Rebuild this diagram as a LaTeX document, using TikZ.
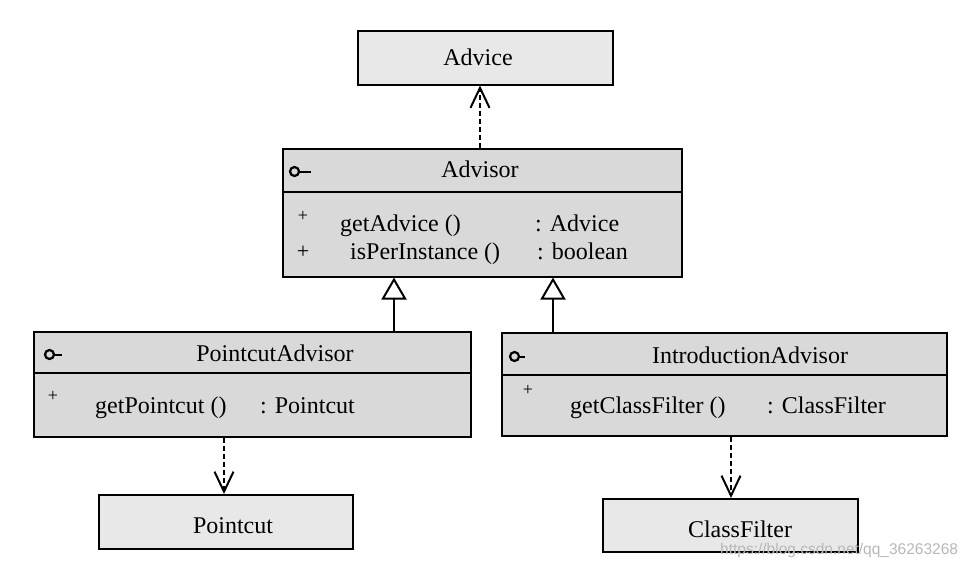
\documentclass[tikz,border=0pt]{standalone}
\usepackage{fontspec}
\setmainfont{Liberation Serif}
\newfontfamily\wmfont{Liberation Sans}
\usetikzlibrary{arrows.meta}
\definecolor{boxfill}{HTML}{D9D9D9}
\definecolor{plainfill}{HTML}{E8E8E8}
\definecolor{wmgray}{HTML}{B8B8B8}
\tikzset{
  cls/.style={draw=black, line width=2pt, fill=boxfill, rectangle, inner sep=0pt},
  plain/.style={draw=black, line width=2pt, fill=plainfill, rectangle, inner sep=0pt},
  txt/.style={inner sep=0pt, anchor=base, font=\fontsize{24}{28}\selectfont},
  ltxt/.style={inner sep=0pt, anchor=base west, font=\fontsize{24}{28}\selectfont},
  plus/.style={inner sep=0pt, anchor=center, font=\fontsize{18}{20}\selectfont},
  bigplus/.style={inner sep=0pt, anchor=center, font=\fontsize{22}{24}\selectfont},
  sep/.style={line width=2pt},
  iface/.style={line width=2.2pt},
  dep/.style={line width=2pt, dash pattern=on 5pt off 3pt, -{Straight Barb[length=20pt,width=19pt]}},
  gen/.style={line width=2pt, -{Triangle[open,length=22pt,width=25pt,fill=white]}},
}
\begin{document}
\begin{tikzpicture}[x=1pt,y=-1pt]
\useasboundingbox[fill=white] (0,0) rectangle (973,570);

% Advice
\node[plain, minimum width=255pt, minimum height=54pt] (advice) at (485.5,57.5) {};
\node[txt] (adviceT) at (478,65) {Advice};

% Advisor
\node[cls, minimum width=399pt, minimum height=128pt] (advisor) at (482.5,212.5) {};
\draw[sep] (advisor.west |- 0,192) -- (advisor.east |- 0,192);
\draw[iface] (294.5,171.5) circle (4.5);
\draw[iface] (299,172) -- (311,172);
\node[txt] (advisorT) at (480,177) {Advisor};
\node[plus] (ap1) at (303,216) {+};
\node[ltxt] (am1) at (340,231) {getAdvice ()};
\node[ltxt] (at1) at (535,231) {: Advice};
\node[bigplus] (ap2) at (303,252) {+};
\node[ltxt] (am2) at (350,259) {isPerInstance ()};
\node[ltxt] (at2) at (537,259) {: boolean};

% PointcutAdvisor
\node[cls, minimum width=437pt, minimum height=105pt] (pcadv) at (252.5,384.5) {};
\draw[sep] (pcadv.west |- 0,373) -- (pcadv.east |- 0,373);
\draw[iface] (49.5,354.5) circle (4.5);
\draw[iface] (54,355) -- (62,355);
\node[txt] (pcadvT) at (275,361) {PointcutAdvisor};
\node[plus] (pp1) at (53,396) {+};
\node[ltxt] (pm1) at (95,413) {getPointcut ()};
\node[ltxt] (pt1) at (260,413) {: Pointcut};

% IntroductionAdvisor
\node[cls, minimum width=445pt, minimum height=103pt] (inadv) at (724.5,384) {};
\draw[sep] (inadv.west |- 0,375) -- (inadv.east |- 0,375);
\draw[iface] (514.5,356.5) circle (4.5);
\draw[iface] (519,357) -- (525,357);
\node[txt] (inadvT) at (750,363) {IntroductionAdvisor};
\node[plus] (ip1) at (528,390) {+};
\node[ltxt] (im1) at (570,413) {getClassFilter ()};
\node[ltxt] (it1) at (767,413) {: ClassFilter};

% Pointcut
\node[plain, minimum width=254pt, minimum height=54pt] (pointcut) at (226,522) {};
\node[txt] (pointcutT) at (233,533) {Pointcut};

% ClassFilter
\node[plain, minimum width=255pt, minimum height=53pt] (classfilter) at (730.5,525.5) {};
\node[txt] (classfilterT) at (740,537) {ClassFilter};

% connector x positions
\coordinate (xa) at (480,0);
\coordinate (xg1) at (394,0);
\coordinate (xg2) at (553,0);
\coordinate (xp) at (224,0);
\coordinate (xc) at (731,0);

\draw[dep] (advisor.north -| xa) -- (advice.south -| xa);
\draw[gen] (pcadv.north -| xg1) -- (advisor.south -| xg1);
\draw[gen] (inadv.north -| xg2) -- (advisor.south -| xg2);
\draw[dep] (pcadv.south -| xp) -- (pointcut.north -| xp);
\draw[dep] (inadv.south -| xc) -- (classfilter.north -| xc);

% watermark
\node[inner sep=0pt, anchor=base west, text=wmgray, font=\wmfont\fontsize{15.5}{18}\selectfont] (wm) at (720,554) {https://blog.csdn.net/qq\_36263268};
\end{tikzpicture}
\end{document}
